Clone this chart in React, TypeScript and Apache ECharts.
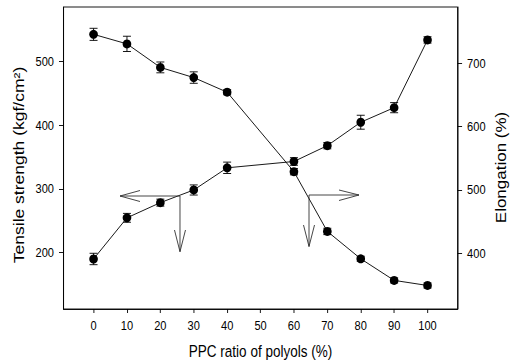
import React, { useEffect, useRef } from "react";
import * as echarts from "echarts";

const ratio = [0, 10, 20, 30, 40, 60, 70, 80, 90, 100];
const tensile = [543, 528, 491, 475, 452, 327, 233, 190, 156, 148];
const tensileErr = [9.5, 12, 8.5, 9, 4, 5, 5, 4, 4, 4];
const elongation = [391, 456, 480, 500, 535, 545, 570, 607, 630, 737];
const elongationErr = [9, 7, 5.5, 8, 9, 6, 5, 11, 8, 5];
const xTicks = [0, 10, 20, 30, 40, 50, 60, 70, 80, 90, 100];
const leftTicks = [200, 300, 400, 500];
const rightTicks = [400, 500, 600, 700];

const FINAL_W = 515;
const H = 364;
const W0 = 628;
const R = W0 / FINAL_W;
const fx = (x: number) => x * R;
const FONT = "'Liberation Sans', Arial, sans-serif";

const arrows: number[][][] = [
  [[120, 196], [180, 196]],
  [[140, 190.5], [120, 196], [140, 201.5]],
  [[180, 196], [180, 251.7]],
  [[174.5, 230], [180, 251.7], [185.5, 230]],
  [[309, 195], [309, 246.5]],
  [[303.5, 225], [309, 246.5], [314.5, 225]],
  [[309, 195], [359, 195]],
  [[339, 190], [359, 195], [339, 200.5]],
];

export default function App() {
  const ref = useRef<HTMLDivElement>(null);
  useEffect(() => {
    document.body.style.margin = "0";
    const chart = echarts.init(ref.current!, undefined, { renderer: "svg" });
    const errRender = (params: any, api: any) => {
      const x = api.value(0);
      const y = api.value(1);
      const e = api.value(2);
      const top = api.coord([x, y + e]);
      const bot = api.coord([x, y - e]);
      const hw = fx(4);
      const st = { stroke: "#000", lineWidth: 1 };
      return {
        type: "group",
        children: [
          { type: "line", shape: { x1: top[0], y1: top[1], x2: bot[0], y2: bot[1] }, style: st },
          { type: "line", shape: { x1: top[0] - hw, y1: top[1], x2: top[0] + hw, y2: top[1] }, style: st },
          { type: "line", shape: { x1: bot[0] - hw, y1: bot[1], x2: bot[0] + hw, y2: bot[1] }, style: st },
        ],
      };
    };
    const labelStyle = { color: "#000", fontFamily: FONT, fontSize: 13.5 };
    const nameStyle = { color: "#000", fontFamily: FONT, fontSize: 17 };
    const lineAx = { show: true, onZero: false, lineStyle: { color: "#000", width: 1 } };
    chart.setOption({
      animation: false,
      grid: {
        left: fx(63.5),
        right: W0 - fx(462),
        top: 7,
        bottom: 54,
        show: true,
        borderColor: "#000",
        borderWidth: 1,
      },
      xAxis: {
        type: "value",
        min: -9,
        max: 109,
        name: "PPC ratio of polyols (%)",
        nameLocation: "middle",
        nameGap: 33,
        nameTextStyle: { ...nameStyle, fontSize: 16.5 },
        axisLine: lineAx,
        axisTick: { show: true, length: 4, customValues: xTicks, lineStyle: { color: "#000" } },
        axisLabel: { ...labelStyle, margin: 10, customValues: xTicks },
        splitLine: { show: false },
      },
      yAxis: [
        {
          type: "value",
          min: 111,
          max: 586,
          position: "left",
          name: "Tensile strength (kgf/cm²)",
          nameLocation: "middle",
          nameGap: 43,
          nameTextStyle: { ...nameStyle, fontSize: 17.5, padding: [0, 14, 0, 0] },
          axisLine: lineAx,
          axisTick: { show: true, length: fx(4.5), customValues: leftTicks, lineStyle: { color: "#000" } },
          axisLabel: { ...labelStyle, margin: fx(9.5), customValues: leftTicks },
          splitLine: { show: false },
        },
        {
          type: "value",
          min: 312,
          max: 789,
          position: "right",
          name: "Elongation (%)",
          nameLocation: "middle",
          nameGap: 44,
          nameTextStyle: { ...nameStyle, padding: [0, 19, 0, 0] },
          axisLine: lineAx,
          axisTick: { show: true, length: fx(4.5), customValues: rightTicks, lineStyle: { color: "#000" } },
          axisLabel: { ...labelStyle, margin: fx(9.5), customValues: rightTicks },
          splitLine: { show: false },
        },
      ],
      series: [
        {
          type: "custom",
          yAxisIndex: 0,
          renderItem: errRender,
          encode: { x: 0, y: 1 },
          data: ratio.map((x, i) => [x, tensile[i], tensileErr[i]]),
          z: 2,
        },
        {
          type: "custom",
          yAxisIndex: 1,
          renderItem: errRender,
          encode: { x: 0, y: 1 },
          data: ratio.map((x, i) => [x, elongation[i], elongationErr[i]]),
          z: 2,
        },
        {
          type: "line",
          yAxisIndex: 0,
          data: ratio.map((x, i) => [x, tensile[i]]),
          symbol: "circle",
          symbolSize: [10.5, 9],
          itemStyle: { color: "#000" },
          lineStyle: { color: "#000", width: 1 },
          z: 3,
        },
        {
          type: "line",
          yAxisIndex: 1,
          data: ratio.map((x, i) => [x, elongation[i]]),
          symbol: "circle",
          symbolSize: [10.5, 9],
          itemStyle: { color: "#000" },
          lineStyle: { color: "#000", width: 1 },
          z: 3,
        },
      ],
      graphic: arrows.map((pts) => ({
        type: "polyline",
        shape: { points: pts.map((p) => [fx(p[0]), p[1]]) },
        style: { stroke: "#333", lineWidth: 1, fill: null },
        z: 10,
      })),
    });
    return () => chart.dispose();
  }, []);
  return (
    <div style={{ width: FINAL_W, height: H, overflow: "hidden", position: "relative" }}>
      <div
        ref={ref}
        style={{
          width: W0,
          height: H,
          transform: `scaleX(${1 / R})`,
          transformOrigin: "0 0",
        }}
      />
    </div>
  );
}
